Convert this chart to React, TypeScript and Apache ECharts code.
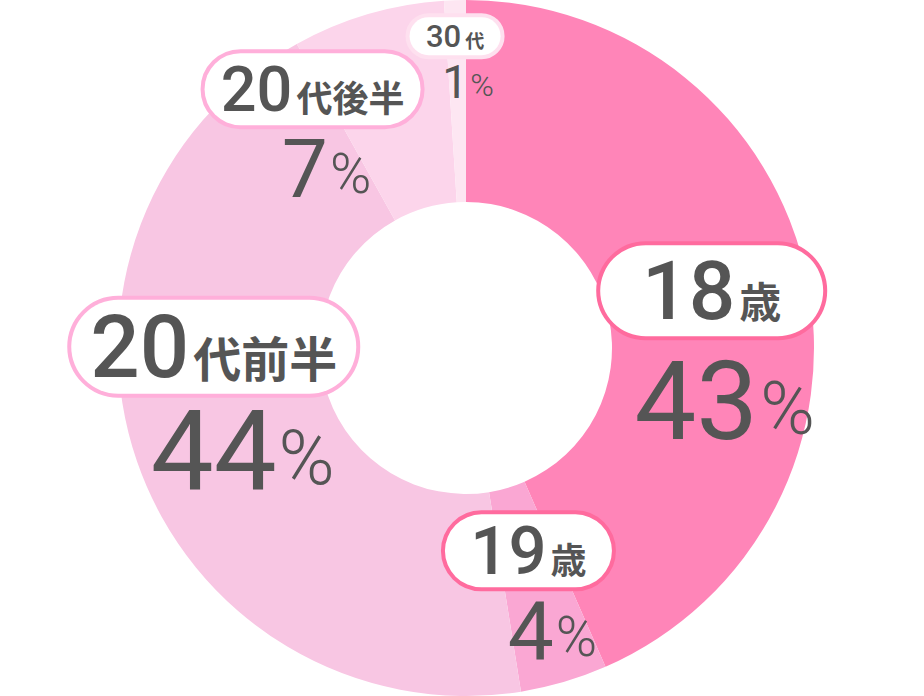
import React, { useEffect, useRef } from 'react';
import * as echarts from 'echarts';

// values
const categories = ['18歳', '19歳', '20代前半', '20代後半', '30代'];
const shares = [43, 4, 44, 7, 1];

const SLICE_COLORS = ['#FF85B8', '#FAA7D3', '#F8C6E3', '#FCD5EB', '#FDE6F2'];
const PILL_BORDERS = ['#FF6B9E', '#FF6B9E', '#FFAFDA', '#FFAFDA', '#FEE0EF'];
const TEXT_COLOR = '#555555';

// pill box [width, height], digit font, kanji font
const PILL_SIZES = [
  [223, 91],
  [167, 73],
  [285, 94],
  [216, 72],
  [91, 38],
];
const PILL_FONTS = [
  [82, 42],
  [67, 36],
  [87, 48],
  [63, 36],
  [31, 19],
];
// percentage digit font, % sign font
const PCT_FONTS = [
  [110, 74],
  [82, 56],
  [112, 76],
  [82, 56],
  [46, 32],
];
// label shifts from the slice's own inside anchor
const PILL_SHIFT = [
  [1, -6],
  [-8, -37],
  [-16, -83],
  [-83, -19],
  [-3, -62],
];
const PCT_SHIFT = [
  [14, 105],
  [16, 44],
  [13, 21],
  [-69, 61],
  [10, -16],
];

const CENTER = [466, 348];
const RADIUS = [146, 348];

const splitName = (name: string) => {
  const m = name.match(/^(\d+)(.*)$/);
  return m ? [m[1], m[2]] : [name, ''];
};

const App = (): JSX.Element => {
  const divEL = useRef(null);

  useEffect(() => {
    const instance = echarts.init(divEL.current as any, null, { renderer: 'svg' });

    const pillData = categories.map((name, i) => {
      const [w, h] = PILL_SIZES[i];
      const [nf, kf] = PILL_FONTS[i];
      return {
        name,
        value: shares[i],
        itemStyle: { color: SLICE_COLORS[i] },
        label: {
          width: w,
          backgroundColor: '#ffffff',
          borderColor: PILL_BORDERS[i],
          borderWidth: 4,
          borderRadius: h / 2,
          padding: 0,
          rich: {
            n: {
              fontFamily: 'Roboto',
              fontWeight: 500,
              fontSize: nf,
              lineHeight: h,
              color: TEXT_COLOR,
              align: 'center',
            },
            k: {
              fontFamily: 'Noto Sans CJK JP',
              fontWeight: 'bold',
              fontSize: kf,
              lineHeight: h,
              color: TEXT_COLOR,
              align: 'center',
              padding: [nf * 0.22, 0, 0, 4],
            },
          },
        },
      };
    });

    const pctData = categories.map((name, i) => {
      const [pf, sf] = PCT_FONTS[i];
      return {
        name,
        value: shares[i],
        label: {
          rich: {
            p: {
              fontFamily: 'Roboto',
              fontWeight: 400,
              fontSize: pf,
              lineHeight: pf,
              color: TEXT_COLOR,
            },
            s: {
              fontFamily: 'Roboto',
              fontWeight: 300,
              fontSize: sf,
              lineHeight: pf,
              color: TEXT_COLOR,
              padding: [pf * 0.12, 0, 0, 2],
            },
          },
        },
      };
    });

    const option: any = {
      animation: false,
      series: [
        {
          type: 'pie',
          center: CENTER,
          radius: RADIUS,
          startAngle: 90,
          clockwise: true,
          silent: true,
          itemStyle: { borderWidth: 0 },
          emphasis: { disabled: true },
          label: {
            show: true,
            position: 'inside',
            formatter: (p: any) => {
              const [num, rest] = splitName(p.name);
              return `{n|${num}}{k|${rest}}`;
            },
          },
          labelLine: { show: false },
          labelLayout: (p: any) => ({
            dx: PILL_SHIFT[p.dataIndex][0],
            dy: PILL_SHIFT[p.dataIndex][1],
          }),
          data: pillData,
        },
        {
          type: 'pie',
          center: CENTER,
          radius: RADIUS,
          startAngle: 90,
          clockwise: true,
          silent: true,
          z: 3,
          itemStyle: { color: 'rgba(0,0,0,0)', borderWidth: 0 },
          emphasis: { disabled: true },
          label: {
            show: true,
            position: 'inside',
            formatter: (p: any) => `{p|${p.value}}{s|%}`,
          },
          labelLine: { show: false },
          labelLayout: (p: any) => ({
            dx: PCT_SHIFT[p.dataIndex][0],
            dy: PCT_SHIFT[p.dataIndex][1],
          }),
          data: pctData,
        },
      ],
    };

    instance.setOption(option);

    return () => {
      instance.dispose();
    };
  }, []);

  return (
    <div
      ref={divEL}
      style={{ position: 'fixed', left: 0, top: 0, width: 924, height: 696, background: '#ffffff' }}
    ></div>
  );
};

export default App;
